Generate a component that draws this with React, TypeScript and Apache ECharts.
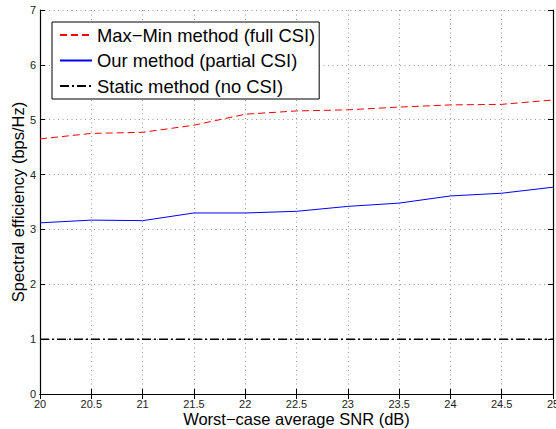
import React, { useEffect, useRef } from "react";
import * as echarts from "echarts";

const snr = [20, 20.5, 21, 21.5, 22, 22.5, 23, 23.5, 24, 24.5, 25];
const maxMin = [4.65, 4.75, 4.77, 4.9, 5.1, 5.16, 5.18, 5.23, 5.27, 5.28, 5.36];
const ours = [3.12, 3.17, 3.16, 3.3, 3.3, 3.33, 3.42, 3.48, 3.61, 3.66, 3.77];
const staticM = [1, 1, 1, 1, 1, 1, 1, 1, 1, 1, 1];
const seriesNames = ["Max\u2212Min method (full CSI)", "Our method (partial CSI)", "Static method (no CSI)"];

const font = "Liberation Sans, Arial, Helvetica, sans-serif";

export default function App() {
  const ref = useRef<HTMLDivElement>(null);
  useEffect(() => {
    document.body.style.margin = "0";
    document.body.style.overflow = "hidden";
    const chart = echarts.init(ref.current!, null, { renderer: "svg" });
    const tickLabel = { fontSize: 11, color: "#222", fontFamily: font };
    const gridLine = { show: true, lineStyle: { color: "#999", type: [1, 3.5] as any, width: 1 } };
    const axisLine = { show: true, lineStyle: { color: "#000", width: 1.2 } };
    const axisTick = { show: true, inside: true, length: 5, lineStyle: { color: "#000", width: 1 } };
    chart.setOption({
      animation: false,
      backgroundColor: "#fff",
      grid: { left: 40, right: 3, top: 10, bottom: 35, containLabel: false, outerBoundsMode: "none" },
      legend: {
        orient: "vertical",
        left: 52,
        top: 22,
        padding: [4, 4, 4, 7],
        itemWidth: 32,
        itemHeight: 14,
        itemGap: 7.5,
        itemTextGap: 10,
        borderColor: "#000",
        borderWidth: 1,
        backgroundColor: "#fff",
        itemStyle: { opacity: 0 },
        textStyle: { fontSize: 18.4, lineHeight: 18, color: "#000", fontFamily: font },
        data: seriesNames,
      },
      xAxis: [
        {
          type: "value",
          min: 20,
          max: 25,
          interval: 0.5,
          name: "Worst\u2212case average SNR (dB)",
          nameLocation: "middle",
          nameGap: 16,
          nameMoveOverlap: false,
          nameTextStyle: { fontSize: 16.5, color: "#000", fontFamily: font },
          axisLine,
          axisTick,
          axisLabel: { ...tickLabel, margin: 4 },
          splitLine: gridLine,
        },
        {
          type: "value",
          position: "top",
          min: 20,
          max: 25,
          interval: 0.5,
          axisLine,
          axisTick,
          axisLabel: { show: false },
          splitLine: { show: false },
        },
      ],
      yAxis: [
        {
          type: "value",
          min: 0,
          max: 7,
          interval: 1,
          name: "Spectral efficiency (bps/Hz)",
          nameLocation: "middle",
          nameGap: 14,
          nameMoveOverlap: false,
          nameTextStyle: { fontSize: 16.5, color: "#000", fontFamily: font },
          axisLine,
          axisTick,
          axisLabel: { ...tickLabel, margin: 4 },
          splitLine: gridLine,
        },
        {
          type: "value",
          position: "right",
          min: 0,
          max: 7,
          interval: 1,
          axisLine,
          axisTick,
          axisLabel: { show: false },
          splitLine: { show: false },
        },
      ],
      series: [
        {
          name: seriesNames[0],
          type: "line",
          data: snr.map((x, i) => [x, maxMin[i]]),
          showSymbol: false,
          symbol: "none",
          lineStyle: { color: "#ff0000", width: 1, type: [7, 4] },
          itemStyle: { color: "#ff0000" },
        },
        {
          name: seriesNames[1],
          type: "line",
          data: snr.map((x, i) => [x, ours[i]]),
          showSymbol: false,
          symbol: "none",
          lineStyle: { color: "#0000ff", width: 1, type: "solid" },
          itemStyle: { color: "#0000ff" },
        },
        {
          name: seriesNames[2],
          type: "line",
          data: snr.map((x, i) => [x, staticM[i]]),
          showSymbol: false,
          symbol: "none",
          lineStyle: { color: "#000", width: 1.5, type: [9, 3, 2, 3] },
          itemStyle: { color: "#000" },
        },
      ],
    });
    return () => chart.dispose();
  }, []);
  return <div ref={ref} style={{ width: 556, height: 429 }} />;
}
